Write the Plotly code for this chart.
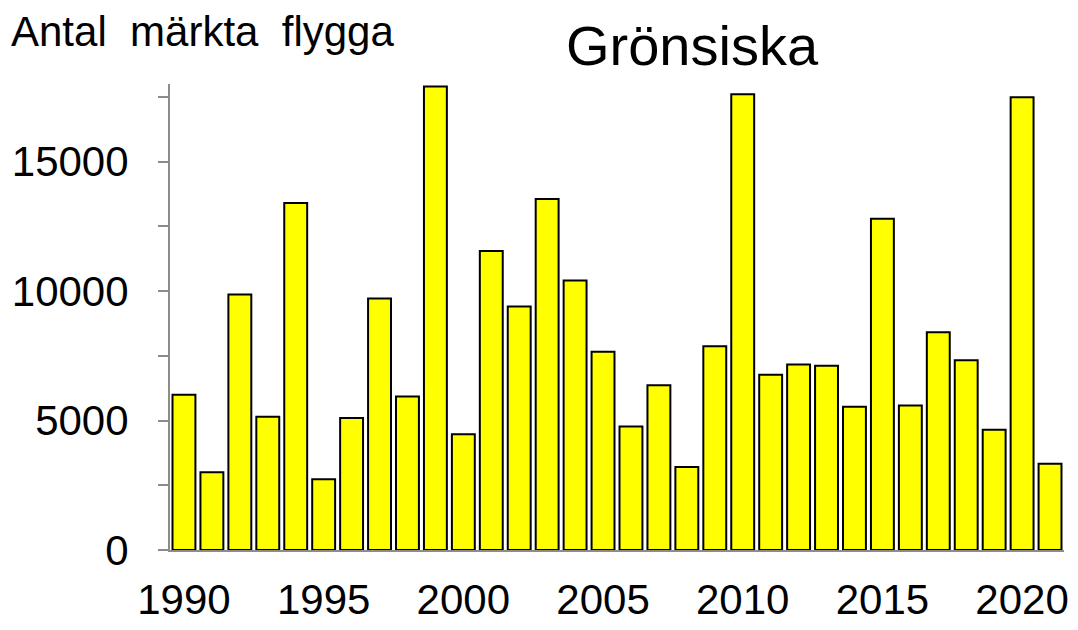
import plotly.graph_objects as go

years = list(range(1990, 2022))
counts = [6000, 3000, 9870, 5150, 13400, 2730, 5100, 9715, 5930, 17900,
          4470, 11545, 9406, 13555, 10411, 7654, 4767, 6365, 3208, 7873,
          17601, 6770, 7166, 7113, 5532, 12791, 5586, 8411, 7333, 4643,
          17487, 3330]
x_ticks = [1990, 1995, 2000, 2005, 2010, 2015, 2020]
y_ticks = [0, 5000, 10000, 15000]
y_ticktext = ["0", "5000", "10000", "15000"]
y_minor = [2500, 7500, 12500, 17500]
title_text = "Grönsiska"
ylabel_text = "Antal\u00a0 märkta\u00a0 flygga"

FONT = "Liberation Sans, Arial, sans-serif"
AXIS_COL = "#8c8c8c"

fig = go.Figure()
fig.add_trace(go.Bar(
    x=years, y=counts,
    marker=dict(color="#ffff00", line=dict(color="#000000", width=2)),
    hoverinfo="x+y",
))

fig.update_layout(
    width=1078, height=630,
    margin=dict(l=162, r=22, t=76, b=88),
    plot_bgcolor="white", paper_bgcolor="white",
    bargap=0.18,
    showlegend=False,
    font=dict(family=FONT, size=42, color="#000000"),
    xaxis=dict(
        range=[1989.5, 2021.5], automargin=False,
        tickmode="array", tickvals=x_ticks,
        ticks="", showgrid=False, zeroline=False,
        showline=True, linecolor=AXIS_COL, linewidth=2,
        tickfont=dict(family=FONT, size=42, color="#000000"),
        ticklabelstandoff=12,
    ),
    yaxis=dict(
        range=[0, 18000], automargin=False,
        tickmode="array", tickvals=y_ticks, ticktext=y_ticktext,
        ticks="outside", ticklen=10, tickwidth=2, tickcolor=AXIS_COL,
        minor=dict(tickmode="array", tickvals=y_minor,
                   ticks="outside", ticklen=10, tickwidth=2, tickcolor=AXIS_COL),
        showgrid=False, zeroline=False,
        showline=True, linecolor=AXIS_COL, linewidth=2,
        tickfont=dict(family=FONT, size=42, color="#000000"),
        ticklabelstandoff=21,
    ),
    annotations=[
        dict(text=title_text, xref="paper", yref="paper", x=0.584, y=1.082,
             xanchor="center", yanchor="middle", showarrow=False,
             font=dict(family=FONT, size=56, color="#000000")),
        dict(text=ylabel_text, xref="paper", yref="paper", x=-0.180, y=1.113,
             xanchor="left", yanchor="middle", showarrow=False,
             font=dict(family=FONT, size=42, color="#000000")),
    ],
)

fig.write_html("out.html")
